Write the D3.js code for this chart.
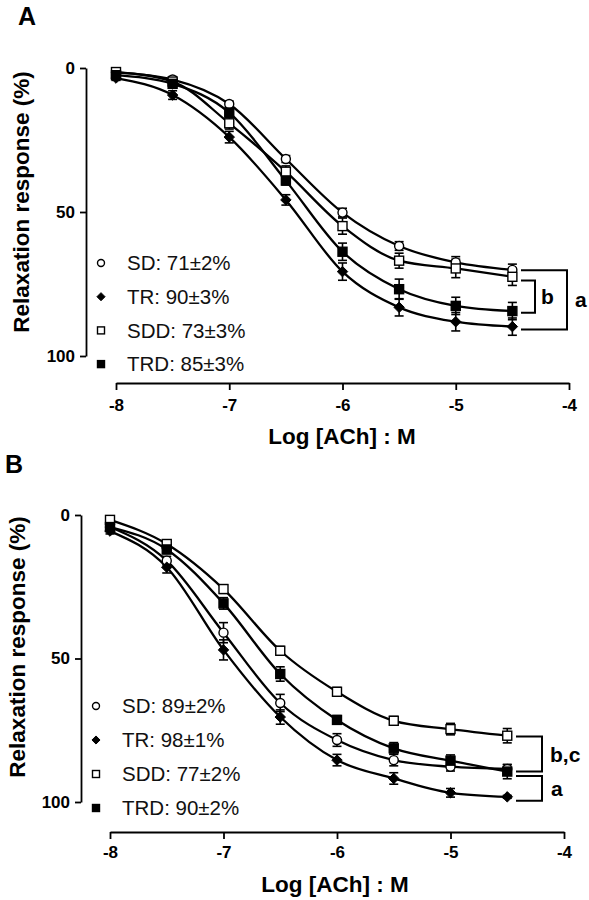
<!DOCTYPE html>
<html>
<head>
<meta charset="utf-8">
<script src="https://cdn.jsdelivr.net/npm/d3@7"></script>
<style>
  html, body { margin: 0; padding: 0; background: #fff; }
  svg { display: block; font-family: Arial, "Liberation Sans", sans-serif; }
</style>
</head>
<body>
<svg id="chart" width="589" height="900"></svg>
<script>
// ---------- DATA ----------
const logConc = [-8, -7.5, -7, -6.5, -6, -5.5, -5, -4.5];
const seriesNames = ["SD", "TR", "SDD", "TRD"];
const xTickValues = [-8, -7, -6, -5, -4];
const yTickValues = [0, 50, 100];

// Panel A means (% relaxation) and SEM
const aSD   = [1.5, 4.0, 12.5, 31.6, 50.2, 61.8, 67.5, 70.1];
const aTR   = [3.5, 9.4, 24.0, 45.8, 70.7, 83.1, 88.1, 89.8];
const aSDD  = [1.4, 4.7, 19.2, 36.0, 54.9, 66.9, 69.6, 72.5];
const aTRD  = [2.5, 5.5, 15.5, 39.1, 63.8, 76.8, 82.6, 84.4];
const aSDerr  = [0.8, 1.0, 1.0, 1.2, 1.5, 1.5, 2.0, 2.0];
const aTRerr  = [0.8, 1.5, 2.0, 1.8, 3.0, 3.0, 3.2, 3.0];
const aSDDerr = [1.0, 1.0, 2.0, 2.0, 2.8, 2.6, 3.2, 3.0];
const aTRDerr = [1.0, 1.0, 1.5, 1.5, 3.0, 3.5, 3.0, 3.0];
const aLegend = ["SD: 71±2%", "TR: 90±3%", "SDD: 73±3%", "TRD: 85±3%"];

// Panel B means (% relaxation) and SEM
const bSD   = [4.2, 15.9, 41.0, 65.5, 78.4, 85.4, 87.7, 88.5];
const bTR   = [5.6, 18.2, 47.0, 70.4, 85.4, 91.8, 96.8, 98.2];
const bSDD  = [1.7, 10.1, 25.8, 47.3, 61.6, 71.7, 74.6, 76.9];
const bTRD  = [4.2, 12.0, 30.8, 55.4, 71.4, 81.3, 85.6, 89.4];
const bSDerr  = [1.0, 1.5, 3.5, 3.0, 2.2, 2.0, 1.5, 1.5];
const bTRerr  = [1.0, 2.0, 3.5, 2.5, 2.0, 2.0, 1.5, 0.5];
const bSDDerr = [1.0, 1.0, 1.5, 1.5, 1.5, 1.5, 2.0, 2.5];
const bTRDerr = [1.0, 1.5, 2.0, 2.5, 1.5, 2.0, 2.0, 2.5];
const bLegend = ["SD: 89±2%", "TR: 98±1%", "SDD: 77±2%", "TRD: 90±2%"];

// Significance brackets: [from value, to value, label]
const aBrackets = [[73.8, 85, "b"], [70.2, 90.8, "a"]];
const bBrackets = [[77.2, 89.4, "b,c"], [90.9, 99.6, "a"]];

const xLabel = "Log [ACh] : M";
const yLabel = "Relaxation response (%)";

// ---------- DRAWING ----------
const svg = d3.select("#chart");

const markerStyle = {
  SD:  { shape: "circle",  fill: "#fff" },
  TR:  { shape: "diamond", fill: "#000" },
  SDD: { shape: "square",  fill: "#fff" },
  TRD: { shape: "square",  fill: "#000" }
};

function drawMarker(g, name, x, y, s) {
  const st = markerStyle[name];
  if (st.shape === "circle") {
    g.append("circle").attr("cx", x).attr("cy", y).attr("r", s * 0.5)
      .attr("fill", st.fill).attr("stroke", "#000").attr("stroke-width", 1.4);
  } else if (st.shape === "square") {
    g.append("rect").attr("x", x - s / 2).attr("y", y - s / 2).attr("width", s).attr("height", s)
      .attr("fill", st.fill).attr("stroke", "#000").attr("stroke-width", 1.4);
  } else {
    const h = s * 0.58;
    g.append("path").attr("d", `M${x},${y - h}L${x + h},${y}L${x},${y + h}L${x - h},${y}Z`)
      .attr("fill", st.fill).attr("stroke", "#000").attr("stroke-width", 1);
  }
}

function panel(cfg) {
  const x = d3.scaleLinear().domain([-8, -4]).range(cfg.xRange);
  const y = d3.scaleLinear().domain([0, 100]).range(cfg.yRange);
  const g = svg.append("g");

  // panel letter
  g.append("text").attr("x", cfg.letterPos[0]).attr("y", cfg.letterPos[1])
    .attr("font-size", 25).attr("font-weight", "bold").text(cfg.letter);

  // y axis
  const yAxis = g.append("g").attr("transform", `translate(${cfg.xRange[0] - cfg.yAxisGap},0)`)
    .call(d3.axisLeft(y).tickValues(yTickValues).tickSize(6).tickSizeOuter(0).tickPadding(5)
      .tickFormat(d => String(d)));
  yAxis.select(".domain").attr("stroke-width", 1.8);
  yAxis.selectAll(".tick line").attr("stroke-width", 1.8);
  yAxis.selectAll("text").attr("font-size", 17).attr("font-weight", "bold").attr("fill", "#000");

  // x axis
  const xAxis = g.append("g").attr("transform", `translate(0,${cfg.xAxisY})`)
    .call(d3.axisBottom(x).tickValues(xTickValues).tickSize(7).tickSizeOuter(0).tickPadding(cfg.xPad)
      .tickFormat(d => String(d)));
  xAxis.select(".domain").attr("stroke-width", 1.8);
  xAxis.selectAll(".tick line").attr("stroke-width", 1.8);
  xAxis.selectAll("text").attr("font-size", 17).attr("font-weight", "bold").attr("fill", "#000");

  // axis titles
  g.append("text").attr("x", cfg.xLabelPos[0]).attr("y", cfg.xLabelPos[1])
    .attr("text-anchor", "middle").attr("font-size", 22.5).attr("font-weight", "bold").text(xLabel);
  g.append("text").attr("transform", `translate(${cfg.yLabelPos[0]},${cfg.yLabelPos[1]}) rotate(-90)`)
    .attr("text-anchor", "middle").attr("font-size", 22.5).attr("font-weight", "bold").text(yLabel);

  const line = d3.line().x(d => x(d[0])).y(d => y(d[1])).curve(d3.curveMonotoneX);

  // curves
  cfg.series.forEach(s => {
    g.append("path").datum(logConc.map((c, i) => [c, s.values[i]]))
      .attr("d", line).attr("fill", "none").attr("stroke", "#000").attr("stroke-width", 2.3);
  });
  // error bars
  cfg.series.forEach(s => {
    logConc.forEach((c, i) => {
      const cx = x(c), y0 = y(s.values[i] - s.err[i]), y1 = y(s.values[i] + s.err[i]);
      g.append("line").attr("x1", cx).attr("x2", cx).attr("y1", y0).attr("y2", y1)
        .attr("stroke", "#000").attr("stroke-width", 1.6);
      [y0, y1].forEach(yy => g.append("line").attr("x1", cx - 4.5).attr("x2", cx + 4.5)
        .attr("y1", yy).attr("y2", yy).attr("stroke", "#000").attr("stroke-width", 1.6));
    });
  });
  // markers
  cfg.series.forEach(s => {
    logConc.forEach((c, i) => drawMarker(g, s.name, x(c), y(s.values[i]), 9));
  });

  // legend
  cfg.legend.forEach((t, i) => {
    const ly = cfg.legendY + i * cfg.legendStep;
    drawMarker(g, seriesNames[i], cfg.legendX, ly, 7);
    g.append("text").attr("x", cfg.legendX + 26).attr("y", ly).attr("dy", "0.36em")
      .attr("font-size", 20.5).attr("fill", "#111").text(t);
  });

  // brackets
  cfg.brackets.forEach((b, i) => {
    const bx = cfg.bracket[i];
    const y0 = y(b[0]), y1 = y(b[1]);
    g.append("path").attr("d", `M${bx.x0},${y0}H${bx.x1}V${y1}H${bx.x0}`)
      .attr("fill", "none").attr("stroke", "#000").attr("stroke-width", 2);
    g.append("text").attr("x", bx.tx).attr("y", (y0 + y1) / 2).attr("dy", "0.36em")
      .attr("font-size", 21).attr("font-weight", "bold").text(b[2]);
  });
}

const mk = (vals, errs) => seriesNames.map((n, i) => ({ name: n, values: vals[i], err: errs[i] }));

panel({
  letter: "A", letterPos: [18, 25],
  xRange: [116, 569], yRange: [68, 356], yAxisGap: 30, xAxisY: 383, xPad: 9,
  xLabelPos: [342, 444], yLabelPos: [29, 202],
  series: mk([aSD, aTR, aSDD, aTRD], [aSDerr, aTRerr, aSDDerr, aTRDerr]),
  legend: aLegend, legendX: 101, legendY: 263, legendStep: 33.7,
  brackets: aBrackets,
  bracket: [{ x0: 521, x1: 535, tx: 541 }, { x0: 521, x1: 567, tx: 575 }]
});

panel({
  letter: "B", letterPos: [5, 473],
  xRange: [110, 564], yRange: [515, 802], yAxisGap: 29, xAxisY: 832, xPad: 7,
  xLabelPos: [335, 892], yLabelPos: [25, 647],
  series: mk([bSD, bTR, bSDD, bTRD], [bSDerr, bTRerr, bSDDerr, bTRDerr]),
  legend: bLegend, legendX: 96, legendY: 706, legendStep: 34,
  brackets: bBrackets,
  bracket: [{ x0: 516, x1: 542, tx: 550 }, { x0: 516, x1: 542, tx: 551 }]
});
</script>
</body>
</html>
